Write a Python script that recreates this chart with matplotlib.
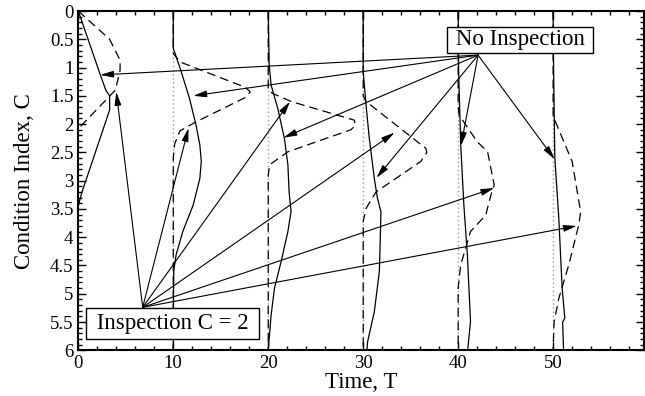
import matplotlib
matplotlib.use('Agg')
import matplotlib.pyplot as plt
from matplotlib.ticker import MultipleLocator, FuncFormatter

plt.rcParams.update({'font.family': ['Liberation Serif', 'DejaVu Serif'], 'font.size': 13})

TIMES = [0, 10, 20, 30, 40, 50]

# condition profiles, no inspection (solid) : time position vs condition index
T0_SOLID_T = [0, 2.3, 2.9, 3.3, 3.3, 0.35, 0]
T0_SOLID_C = [0, 1.12, 1.4, 1.5, 1.75, 3.22, 3.45]
T10_SOLID_T = [10, 10, 10.7, 11.7, 12.4, 12.8, 12.95, 12.8, 12.1, 11.0, 10.3, 10.05, 10, 10]
T10_SOLID_C = [0, 0.66, 1.0, 1.54, 2.02, 2.37, 2.66, 2.96, 3.43, 3.9, 4.31, 4.6, 5.5, 6]
T20_SOLID_T = [20, 20.1, 20.3, 21.0, 21.7, 22.07, 22.2, 22.4, 22.07, 21.36, 20.66, 20.3, 20.0]
T20_SOLID_C = [0, 0.95, 1.31, 1.72, 2.25, 2.72, 3.2, 3.55, 3.9, 4.43, 4.9, 5.38, 6]
T30_SOLID_T = [30, 30, 30.3, 30.64, 31.17, 31.5, 31.87, 31.8, 31.7, 31.17, 30.46, 30.4]
T30_SOLID_C = [0, 1.07, 1.66, 2.25, 2.96, 3.31, 3.55, 4.02, 4.61, 5.32, 5.85, 6]
T40_SOLID_T = [40, 40.05, 40.27, 40.6, 40.97, 41.3, 41.0]
T40_SOLID_C = [0, 1.07, 2.37, 3.43, 4.31, 5.49, 6]
T50_SOLID_T = [50, 50.05, 50.18, 50.6, 50.95, 51.23, 51.0, 51.1]
T50_SOLID_C = [0, 1.07, 2.6, 3.67, 4.9, 5.43, 5.5, 6]

# condition profiles, inspection C = 2 (dashed)
T0_DASH_T = [0, 3.3, 4.4, 4.4, 3.9, 0.35, 0]
T0_DASH_C = [0, 0.5, 0.87, 1.05, 1.4, 2.02, 2.1]
T10_DASH_T = [10, 10, 10.7, 17.6, 18.1, 17.7, 12.4, 10.7, 10.15, 10, 10]
T10_DASH_C = [0, 0.75, 0.9, 1.35, 1.43, 1.52, 1.96, 2.12, 2.35, 2.6, 6]
T20_DASH_T = [20, 20, 20.5, 22.4, 29.06, 29.2, 28.7, 22.06, 20.14, 20, 20]
T20_DASH_C = [0, 1.4, 1.46, 1.6, 1.93, 2.02, 2.1, 2.49, 2.72, 2.9, 6]
T30_DASH_T = [30, 30, 30.3, 36.6, 36.7, 36.07, 31.35, 30.3, 30, 30]
T30_DASH_C = [0, 1.5, 1.6, 2.43, 2.5, 2.66, 3.2, 3.49, 3.72, 6]
T40_DASH_T = [40, 40, 40.1, 42.0, 43.1, 43.8, 43.6, 42.9, 41.3, 40.27, 40, 40]
T40_DASH_C = [0, 1.7, 1.84, 2.31, 2.49, 3.08, 3.16, 3.61, 3.9, 4.49, 4.9, 6]
T50_DASH_T = [50, 50, 50.25, 52.0, 52.9, 52.7, 51.65, 50.6, 50.1, 50]
T50_DASH_C = [0, 1.85, 1.96, 2.66, 3.55, 3.78, 4.49, 5.08, 5.5, 6]

# annotation arrows
NO_INSP_SRC = (42.1, 0.78)
NO_INSP_TO_T = [2.3, 12.1, 21.6, 31.4, 40.3, 50.15]
NO_INSP_TO_C = [1.13, 1.5, 2.24, 2.95, 2.38, 2.62]
INSP_SRC = (6.78, 5.24)
INSP_TO_T = [4.0, 11.6, 22.3, 33.3, 43.8, 52.5]
INSP_TO_C = [1.43, 2.07, 1.6, 2.15, 3.13, 3.8]

fig = plt.figure(figsize=(6.45, 3.96), dpi=100)
ax = fig.add_axes([0.1214, 0.1154, 0.8775, 0.8568])

for t in TIMES[1:]:
    ax.axvline(t, color='#999999', ls=(0, (1, 2)), lw=1, zorder=1)

solids = [(T0_SOLID_T, T0_SOLID_C), (T10_SOLID_T, T10_SOLID_C), (T20_SOLID_T, T20_SOLID_C),
          (T30_SOLID_T, T30_SOLID_C), (T40_SOLID_T, T40_SOLID_C), (T50_SOLID_T, T50_SOLID_C)]
dashes = [(T0_DASH_T, T0_DASH_C), (T10_DASH_T, T10_DASH_C), (T20_DASH_T, T20_DASH_C),
          (T30_DASH_T, T30_DASH_C), (T40_DASH_T, T40_DASH_C), (T50_DASH_T, T50_DASH_C)]
for tt, cc in solids:
    ax.plot(tt, cc, color='k', lw=0.9, zorder=3)
for tt, cc in dashes:
    ax.plot(tt, cc, color='k', lw=0.9, ls=(0, (7, 4)), zorder=2)

arrow_kw = dict(arrowstyle='-|>,head_length=0.8,head_width=0.2', color='k', lw=0.8,
                shrinkA=0, shrinkB=0, mutation_scale=10)
for t, c in zip(NO_INSP_TO_T, NO_INSP_TO_C):
    ax.annotate('', xy=(t, c), xytext=NO_INSP_SRC, arrowprops=arrow_kw, zorder=4)
for t, c in zip(INSP_TO_T, INSP_TO_C):
    ax.annotate('', xy=(t, c), xytext=INSP_SRC, arrowprops=arrow_kw, zorder=4)

ax.text(46.5, 0.51, ' No Inspection ', ha='center', va='center', fontsize=16.5, zorder=5,
        bbox=dict(boxstyle='square,pad=0.12', fc='white', ec='k', lw=1))
ax.text(9.9, 5.53, ' Inspection C = 2 ', ha='center', va='center', fontsize=16.5, zorder=5,
        bbox=dict(boxstyle='square,pad=0.22', fc='white', ec='k', lw=1))

ax.set_xlim(0, 59.6)
ax.set_ylim(6, 0)
ax.xaxis.set_major_locator(MultipleLocator(10))
ax.xaxis.set_minor_locator(MultipleLocator(2))
ax.yaxis.set_major_locator(MultipleLocator(0.5))
ax.yaxis.set_minor_locator(MultipleLocator(0.1))
ax.yaxis.set_major_formatter(FuncFormatter(lambda v, _: f'{v:g}'))
ax.xaxis.set_major_formatter(FuncFormatter(lambda v, _: '' if v > 55 else f'{v:g}'))
ax.tick_params(which='both', direction='in', top=True, right=True, width=1)
ax.tick_params(which='major', length=6, labelsize=13.5)
ax.tick_params(which='minor', length=3)
for s in ax.spines.values():
    s.set_linewidth(1.5)

ax.set_xlabel('Time, T', fontsize=16.5, labelpad=0)
ax.set_ylabel('Condition Index, C', fontsize=16.5, labelpad=11)

fig.savefig('out.png', dpi=100)
